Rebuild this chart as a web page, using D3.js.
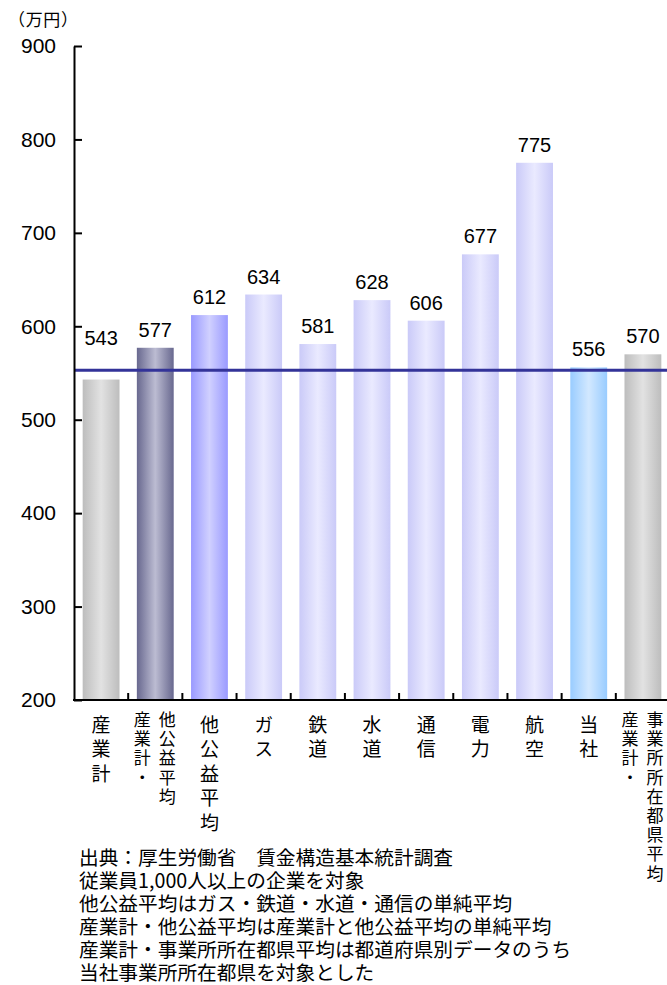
<!DOCTYPE html>
<meta charset="utf-8">
<title>賃金比較</title>
<script src="https://d3js.org/d3.v7.min.js"></script>
<style>
  body { margin: 0; background: #fff; }
  svg text { fill: #000; }
</style>
<body>
<div id="chart"></div>
</body>
<script>
  // data
  var categories = ["産業計", "産業計・他公益平均", "他公益平均", "ガス", "鉄道", "水道",
                    "通信", "電力", "航空", "当社", "産業計・事業所所在都県平均"];
  var values = [543, 577, 612, 634, 581, 628, 606, 677, 775, 556, 570];
  var barStyles = ["gray", "dark", "blue", "light", "light", "light", "light", "light", "light", "sky", "gray"];
  var refValue = 553;
  var yTicks = [200, 300, 400, 500, 600, 700, 800, 900];
  var unitLabel = "（万円）";
  var notes = [
    "出典：厚生労働省　賃金構造基本統計調査",
    "従業員1,000人以上の企業を対象",
    "他公益平均はガス・鉄道・水道・通信の単純平均",
    "産業計・他公益平均は産業計と他公益平均の単純平均",
    "産業計・事業所所在都県平均は都道府県別データのうち",
    "当社事業所所在都県を対象とした"
  ];

  var W = 667, H = 985;
  var margin = {left: 74, right: 670, top: 46, bottom: 700};
  var jp = "'Noto Sans CJK JP', sans-serif";
  var num = "'Liberation Sans', Arial, sans-serif";

  var svg = d3.select("#chart").append("svg")
      .attr("width", W).attr("height", H);

  // gradients for the bars (edge - centre - edge)
  var grads = {
    gray:  ["#bdbdbd", "#e2e2e2"],
    dark:  ["#68688f", "#bcbcd2"],
    blue:  ["#9a9aff", "#d0d0ff"],
    light: ["#cacaf8", "#eaeaff"],
    sky:   ["#99ccff", "#d2e8ff"]
  };
  var defs = svg.append("defs");
  Object.keys(grads).forEach(function(k) {
    var g = defs.append("linearGradient").attr("id", "g-" + k)
        .attr("x1", "0%").attr("x2", "100%").attr("y1", "0%").attr("y2", "0%");
    g.append("stop").attr("offset", "0%").attr("stop-color", grads[k][0]);
    g.append("stop").attr("offset", "50%").attr("stop-color", grads[k][1]);
    g.append("stop").attr("offset", "100%").attr("stop-color", grads[k][0]);
  });

  var x = d3.scaleBand()
      .domain(categories)
      .range([margin.left, margin.right])
      .paddingInner(0.32)
      .paddingOuter(0.16);

  var y = d3.scaleLinear()
      .domain([200, 900])
      .range([margin.bottom, margin.top]);

  // bars
  svg.append("g").selectAll("rect")
    .data(categories)
    .join("rect")
      .attr("x", d => x(d))
      .attr("width", x.bandwidth())
      .attr("y", (d, i) => y(values[i]))
      .attr("height", (d, i) => y(200) - y(values[i]))
      .attr("fill", (d, i) => "url(#g-" + barStyles[i] + ")");

  // reference line
  svg.append("line")
    .attr("x1", margin.left).attr("x2", W)
    .attr("y1", y(refValue)).attr("y2", y(refValue))
    .attr("stroke", "#333399").attr("stroke-width", 3);

  // value labels (the one under the line goes above it)
  svg.append("g").selectAll("text")
    .data(categories)
    .join("text")
      .attr("x", d => x(d) + x.bandwidth() / 2)
      .attr("y", (d, i) => values[i] < refValue ? y(refValue) - 25 : y(values[i]) - 11)
      .attr("text-anchor", "middle")
      .attr("font-family", num)
      .attr("font-size", 20)
      .text((d, i) => values[i]);

  // y axis, ticks pointing inward
  var yAxis = svg.append("g")
    .attr("transform", "translate(" + margin.left + ",0)")
    .call(d3.axisLeft(y).tickValues(yTicks).tickSizeInner(-8).tickSizeOuter(0).tickPadding(18));
  yAxis.select(".domain").attr("stroke", "#000").attr("stroke-width", 2);
  yAxis.selectAll(".tick line").attr("stroke", "#000").attr("stroke-width", 2);
  yAxis.selectAll(".tick text")
    .attr("font-family", num).attr("font-size", 21).attr("fill", "#000");

  // x axis line and ticks between categories
  svg.append("line")
    .attr("x1", margin.left - 1).attr("x2", W)
    .attr("y1", margin.bottom).attr("y2", margin.bottom)
    .attr("stroke", "#000").attr("stroke-width", 2);
  var step = x.step();
  svg.append("g").selectAll("line")
    .data(categories)
    .join("line")
      .attr("x1", d => x(d) + x.bandwidth() + step * 0.16)
      .attr("x2", d => x(d) + x.bandwidth() + step * 0.16)
      .attr("y1", margin.bottom - 7).attr("y2", margin.bottom)
      .attr("stroke", "#000").attr("stroke-width", 2);

  // vertical category labels, one column of text per part
  var catG = svg.append("g").attr("font-family", jp);
  categories.forEach(function(c) {
    var cx = x(c) + x.bandwidth() / 2;
    var k = c.indexOf("・");
    var cols = k >= 0 ? [c.slice(0, k + 1), c.slice(k + 1)] : [c];
    var two = cols.length > 1;
    var fs = two ? 17 : 19;
    var gap = two ? 19.2 : 24.5;
    var y0 = two ? 711 : 715;
    cols.forEach(function(col, j) {
      catG.append("text")
        .attr("x", two ? cx + (j === 0 ? -13 : 12) : cx)
        .attr("y", y0)
        .attr("font-size", fs)
        .style("writing-mode", "vertical-rl")
        .style("letter-spacing", (gap - fs) + "px")
        .text(col);
    });
  });

  // unit label
  svg.append("text")
    .attr("x", 8).attr("y", 26)
    .attr("font-family", jp).attr("font-size", 17)
    .attr("textLength", 70)
    .attr("lengthAdjust", "spacing")
    .text(unitLabel);

  // footnotes
  svg.append("g").selectAll("text")
    .data(notes)
    .join("text")
      .attr("x", 79)
      .attr("y", (d, i) => 865 + i * 23)
      .attr("font-family", jp)
      .attr("font-size", 19.7)
      .text(d => d);
</script>
